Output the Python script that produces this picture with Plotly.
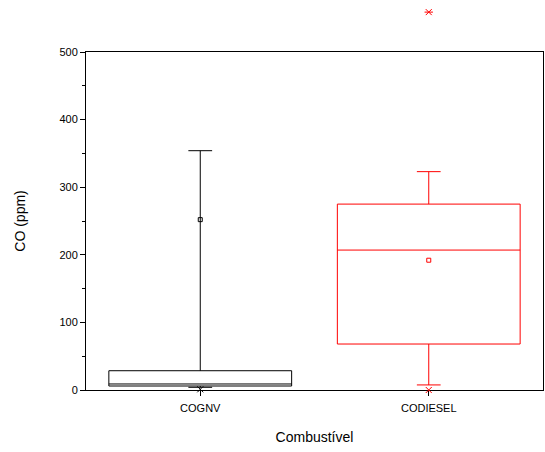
import plotly.graph_objects as go

# Box statistics (CO, ppm) per fuel
fuels = ["COGNV", "CODIESEL"]
colors = ["#000000", "#ff0000"]
q1 = [5.9, 68]
median = [8.9, 207]
q3 = [28.5, 275]
lower_whisker = [4, 7.5]
upper_whisker = [354, 323]
means = [252, 192]
minimums = [1, 0]
maximums = [None, 559]

Y_MAX = 500

# page geometry (pixels)
W, H = 545, 452
M_L, M_R, M_T, M_B = 86, 2, 5, 62
FRAME_TOP = 52  # top edge of the framed plot area

total_h = H - M_T - M_B
main_h = H - FRAME_TOP - M_B
main_frac = main_h / total_h

fig = go.Figure()

for i, fuel in enumerate(fuels):
    fig.add_trace(go.Box(
        x=[fuel],
        q1=[q1[i]], median=[median[i]], q3=[q3[i]],
        lowerfence=[lower_whisker[i]], upperfence=[upper_whisker[i]],
        boxpoints=False,
        width=0.8,
        whiskerwidth=0.13,
        line=dict(color=colors[i], width=1),
        fillcolor="rgba(0,0,0,0)",
        showlegend=False,
        hoverinfo="skip",
    ))
    # mean marker
    fig.add_trace(go.Scatter(
        x=[fuel], y=[means[i]], mode="markers",
        marker=dict(symbol="square-open", size=4, color=colors[i],
                    line=dict(width=1, color=colors[i])),
        showlegend=False, cliponaxis=False,
    ))
    # extreme values, on a taller companion axis so values above the
    # framed range stay visible
    ext = [v for v in (minimums[i], maximums[i]) if v is not None]
    fig.add_trace(go.Scatter(
        x=[fuel] * len(ext), y=ext, mode="markers", yaxis="y2",
        marker=dict(symbol="x-thin-open", size=6, color=colors[i],
                    line=dict(width=1, color=colors[i])),
        showlegend=False, cliponaxis=False,
    ))
    if maximums[i] is not None and maximums[i] > Y_MAX:
        fig.add_trace(go.Scatter(
            x=[fuel], y=[maximums[i]], mode="markers", yaxis="y2",
            marker=dict(symbol="line-ew-open", size=6, color=colors[i],
                        line=dict(width=1, color=colors[i])),
            showlegend=False, cliponaxis=False,
        ))

fig.update_layout(
    width=W, height=H,
    margin=dict(l=M_L, r=M_R, t=M_T, b=M_B, autoexpand=False),
    paper_bgcolor="white", plot_bgcolor="rgba(0,0,0,0)",
    font=dict(family="Liberation Sans, Arial, sans-serif", size=11, color="black"),
    xaxis=dict(
        type="category",
        categoryorder="array", categoryarray=fuels,
        range=[-0.5, 1.5],
        anchor="y",
        automargin=False,
        showline=True, mirror=True, linecolor="black", linewidth=1,
        ticks="outside", ticklen=5, tickcolor="black",
        ticklabelstandoff=3,
        showgrid=False, zeroline=False,
        title=dict(text="Combustível", font=dict(size=14), standoff=18),
    ),
    yaxis=dict(
        domain=[0, main_frac],
        range=[0, Y_MAX], dtick=100,
        automargin=False,
        showline=True, mirror=True, linecolor="black", linewidth=1,
        ticks="outside", ticklen=5, tickcolor="black",
        minor=dict(ticks="outside", ticklen=3, dtick=50, tickcolor="black"),
        showgrid=False, zeroline=False,
        title=dict(text="CO (ppm)", font=dict(size=14), standoff=30),
    ),
    yaxis2=dict(
        domain=[0, 1],
        range=[0, Y_MAX / main_frac],
        anchor="x",
        visible=False,
        automargin=False,
        showgrid=False, zeroline=False,
    ),
)

fig.write_html("out.html")
